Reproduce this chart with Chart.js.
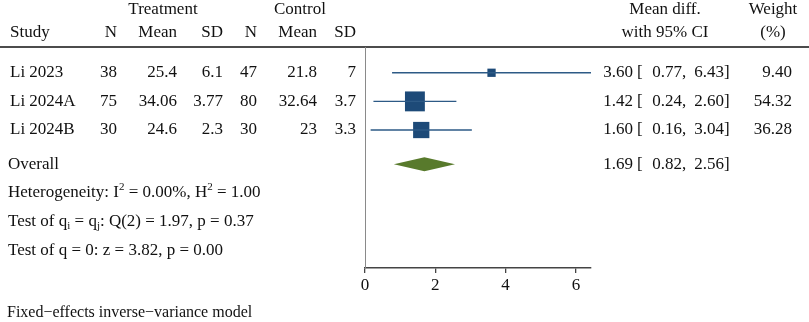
<!DOCTYPE html>
<html>
<head>
<meta charset="utf-8">
<script src="https://cdn.jsdelivr.net/npm/chart.js@4.4.1/dist/chart.umd.min.js"></script>
<style>
  html, body { margin: 0; padding: 0; background: #fff; }
  canvas { display: block; }
</style>
</head>
<body>
<canvas id="forest" width="809" height="322"></canvas>
<script>
// study data
const studies = ['Li 2023', 'Li 2024A', 'Li 2024B'];
const treatN = [38, 75, 30];
const treatMean = [25.4, 34.06, 24.6];
const treatSD = [6.1, 3.77, 2.3];
const ctrlN = [47, 80, 30];
const ctrlMean = [21.8, 32.64, 23];
const ctrlSD = [7, 3.7, 3.3];
const effect = [3.60, 1.42, 1.60];
const lower = [0.77, 0.24, 0.16];
const upper = [6.43, 2.60, 3.04];
const weight = [9.40, 54.32, 36.28];

// overall
const overallEffect = 1.69;
const overallLower = 0.82;
const overallUpper = 2.56;

// heterogeneity stats
const i2 = '0.00';
const h2 = '1.00';
const qDf = 2;
const qStat = '1.97';
const qP = '0.37';
const zStat = '3.82';
const zP = '0.00';

const xTicks = [0, 2, 4, 6];

// row positions (y value of each row)
const studyRows = [1, 2, 3];
const overallRow = 4.2;
const hetRows = [5.2, 6.2, 7.2];

const FONT = '"Liberation Serif", "Times New Roman", serif';
const MAIN = '17px ' + FONT;
const SQ_COLOR = '#1d4a78';
const CI_COLOR = '#2d5a86';
const DIAMOND_COLOR = '#587a2c';

function txt(ctx, s, x, y, align) {
    ctx.textAlign = align || 'left';
    ctx.fillText(s, x, y);
}

// text with sub/superscripts: segments = [[text, mode], ...]
function rich(ctx, segs, x, y) {
    ctx.textAlign = 'left';
    let cx = x;
    segs.forEach(([s, mode]) => {
        if (mode) {
            ctx.font = '11px ' + FONT;
            ctx.fillText(s, cx, y + (mode === 'sup' ? -6 : 4));
        } else {
            ctx.font = MAIN;
            ctx.fillText(s, cx, y);
        }
        cx += ctx.measureText(s).width;
    });
    ctx.font = MAIN;
}

const forestPlugin = {
    id: 'forest',
    beforeDatasetsDraw(chart) {
        const { ctx, chartArea, scales: { x } } = chart;
        ctx.save();
        // header rule
        ctx.strokeStyle = '#111';
        ctx.lineWidth = 1.5;
        ctx.beginPath();
        ctx.moveTo(0, chartArea.top);
        ctx.lineTo(chart.width, chartArea.top);
        ctx.stroke();
        // line of no effect
        ctx.strokeStyle = '#8a8a8a';
        ctx.lineWidth = 1;
        ctx.beginPath();
        ctx.moveTo(x.getPixelForValue(0) + 0.5, chartArea.top);
        ctx.lineTo(x.getPixelForValue(0) + 0.5, chartArea.bottom);
        ctx.stroke();
        ctx.restore();
    },
    afterDatasetsDraw(chart) {
        const { ctx, scales: { x, y } } = chart;
        ctx.save();
        // overall diamond
        const yc = y.getPixelForValue(overallRow);
        ctx.fillStyle = DIAMOND_COLOR;
        ctx.beginPath();
        ctx.moveTo(x.getPixelForValue(overallLower), yc);
        ctx.lineTo(x.getPixelForValue(overallEffect), yc - 7);
        ctx.lineTo(x.getPixelForValue(overallUpper), yc);
        ctx.lineTo(x.getPixelForValue(overallEffect), yc + 7);
        ctx.closePath();
        ctx.fill();

        // headers
        ctx.fillStyle = '#111';
        ctx.font = MAIN;
        ctx.textBaseline = 'middle';
        txt(ctx, 'Treatment', 163, 10, 'center');
        txt(ctx, 'Control', 300, 10, 'center');
        txt(ctx, 'Study', 10, 33);
        txt(ctx, 'N', 117, 33, 'right');
        txt(ctx, 'Mean', 177, 33, 'right');
        txt(ctx, 'SD', 223, 33, 'right');
        txt(ctx, 'N', 257, 33, 'right');
        txt(ctx, 'Mean', 317, 33, 'right');
        txt(ctx, 'SD', 356, 33, 'right');
        txt(ctx, 'Mean diff.', 665, 10, 'center');
        txt(ctx, 'with 95% CI', 665, 33, 'center');
        txt(ctx, 'Weight', 773, 10, 'center');
        txt(ctx, '(%)', 773, 33, 'center');

        const ciText = (e, lo, hi, py) => {
            txt(ctx, e.toFixed(2), 633, py, 'right');
            txt(ctx, '[', 637, py);
            txt(ctx, lo.toFixed(2), 682, py, 'right');
            txt(ctx, ',', 682, py);
            txt(ctx, hi.toFixed(2), 724, py, 'right');
            txt(ctx, ']', 724, py);
        };

        studies.forEach((s, i) => {
            const py = y.getPixelForValue(studyRows[i]);
            txt(ctx, s, 10, py);
            txt(ctx, String(treatN[i]), 117, py, 'right');
            txt(ctx, String(treatMean[i]), 177, py, 'right');
            txt(ctx, String(treatSD[i]), 223, py, 'right');
            txt(ctx, String(ctrlN[i]), 257, py, 'right');
            txt(ctx, String(ctrlMean[i]), 317, py, 'right');
            txt(ctx, String(ctrlSD[i]), 356, py, 'right');
            ciText(effect[i], lower[i], upper[i], py);
            txt(ctx, weight[i].toFixed(2), 792, py, 'right');
        });

        txt(ctx, 'Overall', 8, yc);
        ciText(overallEffect, overallLower, overallUpper, yc);

        rich(ctx, [['Heterogeneity: I'], ['2', 'sup'], [' = ' + i2 + '%, H'], ['2', 'sup'], [' = ' + h2]],
            8, y.getPixelForValue(hetRows[0]));
        rich(ctx, [['Test of q'], ['i', 'sub'], [' = q'], ['j', 'sub'], [': Q(' + qDf + ') = ' + qStat + ', p = ' + qP]],
            8, y.getPixelForValue(hetRows[1]));
        rich(ctx, [['Test of q = 0: z = ' + zStat + ', p = ' + zP]],
            8, y.getPixelForValue(hetRows[2]));

        ctx.font = '16px ' + FONT;
        txt(ctx, 'Fixed\u2212effects inverse\u2212variance model', 7, 313);
        ctx.restore();
    }
};

// CI lines, one dataset per study
const ciSets = studies.map((s, i) => ({
    type: 'line',
    label: s + ' CI',
    data: [{ x: lower[i], y: studyRows[i] }, { x: upper[i], y: studyRows[i] }],
    borderColor: CI_COLOR,
    borderWidth: 1.3,
    pointRadius: 0,
    fill: false
}));

// squares sized by weight (area ~ weight)
const squareSet = {
    type: 'scatter',
    label: 'Estimate',
    data: studies.map((s, i) => ({ x: effect[i], y: studyRows[i] })),
    pointStyle: 'rect',
    pointRadius: weight.map(w => 2.7 * Math.sqrt(w) / Math.SQRT2),
    backgroundColor: SQ_COLOR,
    borderColor: SQ_COLOR,
    borderWidth: 0
};

new Chart(document.getElementById('forest'), {
    type: 'scatter',
    data: { datasets: [...ciSets, squareSet] },
    options: {
        responsive: false,
        animation: false,
        devicePixelRatio: 1,
        layout: { padding: { left: 365, right: 218, top: 47, bottom: 24 } },
        plugins: { legend: { display: false }, tooltip: { enabled: false } },
        scales: {
            x: {
                type: 'linear',
                min: 0,
                max: Math.max(...upper),
                afterBuildTicks: axis => { axis.ticks = xTicks.map(v => ({ value: v })); },
                afterFit: axis => { axis.height = 30; },
                grid: { drawOnChartArea: false, drawTicks: true, tickLength: 5, color: '#444', lineWidth: 1.3 },
                border: { display: true, color: '#444', width: 1.5 },
                ticks: { color: '#111', padding: 2, font: { family: FONT, size: 17 }, maxRotation: 0 }
            },
            y: {
                type: 'linear',
                reverse: true,
                display: false,
                min: 0.1,
                max: 7.82
            }
        }
    },
    plugins: [forestPlugin]
});
</script>
</body>
</html>
